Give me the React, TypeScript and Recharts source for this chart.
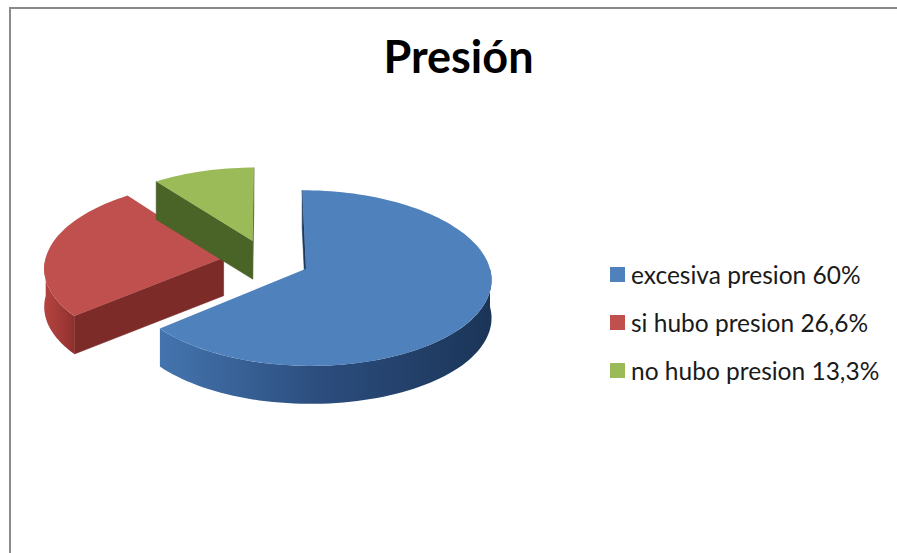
import { Legend, Pie, PieChart } from "recharts";

const categories = ["excesiva presion 60%", "si hubo presion 26,6%", "no hubo presion 13,3%"];
const values = [60, 26.6, 13.3];
const colors = ["#4f81bd", "#c0504d", "#9bbb59"];
const cutColors = ["#1f3a60", "#7c2b29", "#4a6327"];
const wallStops = [
  ["#4474ae", "#2b4c7c", "#1b3558"],
  ["#b5433f", "#a33b38", "#8f302e"],
  ["#7f9a47", "#6f8a3c", "#5f7a30"],
];

const pieData = categories.map((name, i) => ({ name, value: values[i], fill: colors[i] }));

// the fake 3D view
const flatten = 0.467;
const perspective = 0.105;
const depth = 38;
const explode = 0.24;
const viewSkew = 14;
const leftSqueeze = 0.98;

const rad = (deg: number) => (deg * Math.PI) / 180;

// Excel's 3D view stretches the slices a bit, so the angles get bent before projecting
const bend = (a: number) => a + viewSkew * Math.pow(Math.max(0, Math.sin(rad(a / 2))), 0.3);

function Slice3D(props: any) {
  const { cx, cy, outerRadius: R, startAngle, endAngle, fill } = props;
  const i = colors.indexOf(fill);
  const a0 = bend(90 - startAngle);
  const a1 = bend(90 - endAngle);
  const mid = (a0 + a1) / 2;
  const ex = explode * Math.sin(rad(mid));
  const ev = -explode * Math.cos(rad(mid));

  // perspective is taken around the whole pie, so slices pushed back get smaller
  const project = (a: number, r = 1, drop = 0) => {
    const x = ex + r * Math.sin(rad(a));
    const v = ev - r * Math.cos(rad(a));
    const d = 1 - perspective * v;
    return [cx + (R * x * (x < 0 ? leftSqueeze : 1)) / d, cy + (R * flatten * v) / d + drop];
  };
  const arc = (from: number, to: number, drop = 0) => {
    const pts = [];
    const steps = Math.max(2, Math.ceil(Math.abs(to - from) / 2));
    for (let s = 0; s <= steps; s++) pts.push(project(from + ((to - from) * s) / steps, 1, drop));
    return pts;
  };
  const toPath = (pts: number[][]) => "M" + pts.map((p) => p[0].toFixed(1) + "," + p[1].toFixed(1)).join("L") + "Z";

  const apex = project(0, 0);
  const apexLow = project(0, 0, depth);
  const cutWall = (a: number) => [apex, project(a), project(a, 1, depth), apexLow];
  const faces = (a: number) => -Math.cos(rad(a)) >= -0.01;

  const wallFrom = Math.max(a0, 90);
  const wallTo = Math.min(a1, 270);
  const wallPts = wallTo > wallFrom ? [...arc(wallFrom, wallTo), ...arc(wallTo, wallFrom, depth)] : null;
  const xs = wallPts ? wallPts.map((p) => p[0]) : [0, 1];
  const gradId = "wall-" + i;

  return (
    <g>
      <defs>
        <linearGradient
          id={gradId}
          gradientUnits="userSpaceOnUse"
          x1={Math.min(...xs)}
          x2={Math.max(...xs)}
          y1={0}
          y2={0}
        >
          <stop offset="0" stopColor={wallStops[i][0]} />
          <stop offset="0.5" stopColor={wallStops[i][1]} />
          <stop offset="1" stopColor={wallStops[i][2]} />
        </linearGradient>
      </defs>
      {faces(a0 - 90) && <path d={toPath(cutWall(a0))} fill={cutColors[i]} stroke={cutColors[i]} strokeWidth={0.6} />}
      {faces(a1 + 90) && <path d={toPath(cutWall(a1))} fill={cutColors[i]} stroke={cutColors[i]} strokeWidth={0.6} />}
      {wallPts && <path d={toPath(wallPts)} fill={`url(#${gradId})`} />}
      <path d={toPath([apex, ...arc(a0, a1)])} fill={fill} />
    </g>
  );
}

function LegendRows({ payload }: any) {
  return (
    <div style={{ fontFamily: "Lato, sans-serif", fontSize: 24.5, color: "#1a1a1a" }}>
      {(payload ?? []).map((item: any) => (
        <div key={item.value} style={{ height: 48, display: "flex", alignItems: "center", whiteSpace: "nowrap" }}>
          <span style={{ width: 15, height: 15, background: item.color, marginRight: 6, flex: "none" }} />
          {item.value}
        </div>
      ))}
    </div>
  );
}

export default function App() {
  return (
    <div style={{ position: "absolute", left: 0, top: 0, width: 897, height: 553, overflow: "hidden", background: "#fff" }}>
      <div
        style={{
          position: "absolute",
          left: 9,
          top: 7,
          width: 888,
          height: 546,
          borderTop: "2px solid #8a8a8a",
          borderLeft: "2px solid #8a8a8a",
          boxSizing: "border-box",
        }}
      />
      <div
        style={{
          position: "absolute",
          left: 0,
          width: 917,
          top: 29,
          textAlign: "center",
          fontFamily: "Lato, sans-serif",
          fontWeight: 700,
          fontSize: 45,
          lineHeight: "54px",
          color: "#000",
        }}
      >
        Presión
      </div>
      <PieChart width={897} height={553} margin={{ top: 0, right: 0, bottom: 0, left: 0 }} style={{ position: "absolute", left: 0, top: 0 }}>
        <Pie
          data={pieData}
          dataKey="value"
          nameKey="name"
          cx={266}
          cy={260}
          innerRadius={0}
          outerRadius={182}
          startAngle={90}
          endAngle={-270}
          isAnimationActive={false}
          shape={Slice3D}
          inactiveShape={Slice3D}
          activeShape={Slice3D}
          labelLine={false}
          legendType="square"
        />
        <Legend
          layout="vertical"
          verticalAlign="middle"
          align="center"
          itemSorter={null}
          content={LegendRows}
          wrapperStyle={{ left: 610, top: 250, width: 285 }}
        />
      </PieChart>
    </div>
  );
}
